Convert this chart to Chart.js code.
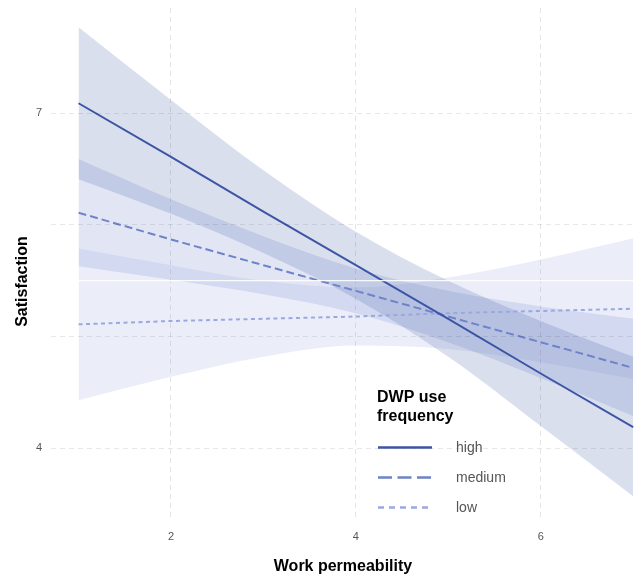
<!DOCTYPE html>
<html>
<head>
<meta charset="utf-8">
<script src="https://cdn.jsdelivr.net/npm/chart.js@4/dist/chart.umd.min.js"></script>
<style>
  body { margin: 0; background: #fff; }
  #wrap { width: 635px; height: 577px; }
</style>
</head>
<body>
<div id="wrap"><canvas id="grafico" width="635" height="577"></canvas></div>
<script>
// datos
const permeabilidad = [1, 2, 3, 4, 5, 6, 7];
const grupos = ['high', 'medium', 'low'];

const highAjuste = [7.09, 6.61, 6.12, 5.64, 5.16, 4.67, 4.19];
const highSup    = [7.77, 7.12, 6.49, 5.94, 5.50, 5.14, 4.82];
const highInf    = [6.41, 6.10, 5.75, 5.34, 4.82, 4.20, 3.57];

const mediumAjuste = [6.11, 5.87, 5.64, 5.41, 5.18, 4.95, 4.72];
const mediumSup    = [6.59, 6.23, 5.90, 5.61, 5.41, 5.27, 5.16];
const mediumInf    = [5.63, 5.51, 5.38, 5.21, 4.95, 4.63, 4.29];

const lowAjuste = [5.11, 5.14, 5.16, 5.18, 5.21, 5.23, 5.25];
const lowSup    = [5.79, 5.64, 5.50, 5.44, 5.53, 5.69, 5.88];
const lowInf    = [4.43, 4.64, 4.82, 4.92, 4.89, 4.77, 4.62];

const xTicks = [2, 4, 6];
const yTicks = [4, 5, 5.5, 6, 7];
const yEtiquetas = [4, 7];

const colores = { high: '#3c55a5', medium: '#6f83c8', low: '#9aa8e0' };
const rellenos = { high: 'rgba(60,85,165,0.19)', medium: 'rgba(111,131,200,0.2)', low: 'rgba(154,168,224,0.2)' };
const guiones = { high: [], medium: [8, 4], low: [4, 3.5] };
const guionesLeyenda = { high: [], medium: [14, 5.5], low: [6, 5] };

const puntos = (ys) => permeabilidad.map((x, i) => ({ x: x, y: ys[i] }));

const linea = (nombre, ys) => ({
    label: nombre,
    data: puntos(ys),
    borderColor: colores[nombre],
    borderWidth: 2,
    borderDash: guiones[nombre],
    pointRadius: 0,
    fill: false,
    order: 0
});

const banda = (nombre, ys, relleno) => ({
    label: nombre + (relleno ? ' inf' : ' sup'),
    data: puntos(ys),
    borderWidth: 0,
    borderColor: 'rgba(0,0,0,0)',
    backgroundColor: rellenos[nombre],
    pointRadius: 0,
    cubicInterpolationMode: 'monotone',
    fill: relleno ? '-1' : false,
    order: 1
});

// leyenda y titulo del eje y dibujados a mano
const leyendaPlugin = {
    id: 'leyendaPlugin',
    afterDraw(chart) {
        const ctx = chart.ctx;
        ctx.save();
        ctx.fillStyle = '#000';
        ctx.font = 'bold 16px "Liberation Sans", Arial, sans-serif';
        ctx.textBaseline = 'middle';
        ctx.textAlign = 'left';
        ctx.fillText('DWP use', 377, 398);
        ctx.fillText('frequency', 377, 417);

        grupos.forEach((g, i) => {
            const y = 447.5 + i * 30;
            ctx.beginPath();
            ctx.strokeStyle = colores[g];
            ctx.lineWidth = 2.6;
            ctx.setLineDash(guionesLeyenda[g]);
            ctx.moveTo(378, y);
            ctx.lineTo(432, y);
            ctx.stroke();
            ctx.setLineDash([]);
            ctx.fillStyle = '#555';
            ctx.font = '14px "Liberation Sans", Arial, sans-serif';
            ctx.fillText(g, 456, y + 1);
        });

        ctx.translate(22.5, 281.5);
        ctx.rotate(-Math.PI / 2);
        ctx.textAlign = 'center';
        ctx.fillStyle = '#000';
        ctx.font = 'bold 16px "Liberation Sans", Arial, sans-serif';
        ctx.fillText('Satisfaction', 0, 0);
        ctx.restore();
    }
};

const ctx = document.getElementById('grafico').getContext('2d');
const miGrafico = new Chart(ctx, {
    type: 'line',
    data: {
        datasets: [
            linea('high', highAjuste),
            linea('medium', mediumAjuste),
            linea('low', lowAjuste),
            banda('high', highSup, false),
            banda('high', highInf, true),
            banda('medium', mediumSup, false),
            banda('medium', mediumInf, true),
            banda('low', lowSup, false),
            banda('low', lowInf, true)
        ]
    },
    options: {
        responsive: false,
        animation: false,
        layout: { padding: { top: 8, right: 0, left: 0, bottom: 0 } },
        plugins: {
            legend: { display: false },
            tooltip: { enabled: false }
        },
        scales: {
            x: {
                type: 'linear',
                min: 0.702,
                max: 7.02,
                afterBuildTicks: (eje) => { eje.ticks = xTicks.map(v => ({ value: v })); },
                afterFit: (eje) => { eje.height = 57; },
                grid: { color: '#e4e4e4', lineWidth: 1, drawTicks: false },
                border: { display: false, dash: [5, 4] },
                ticks: {
                    padding: 10,
                    color: '#555',
                    font: { size: 11, family: '"Liberation Sans", Arial, sans-serif' }
                },
                title: {
                    display: true,
                    text: 'Work permeability',
                    color: '#000',
                    padding: { top: 0, bottom: 1 },
                    font: { size: 16, weight: 'bold', family: '"Liberation Sans", Arial, sans-serif' }
                }
            },
            y: {
                min: 3.358,
                max: 7.943,
                afterBuildTicks: (eje) => { eje.ticks = yTicks.map(v => ({ value: v })); },
                afterFit: (eje) => {
                    eje.width = 51;
                    eje.paddingTop = 0;
                    eje.paddingBottom = 0;
                },
                grid: {
                    z: 1,
                    drawTicks: false,
                    color: (c) => c.tick && c.tick.value === 5.5 ? 'rgba(255,255,255,0.9)' : 'rgba(0,0,0,0.09)',
                    lineWidth: (c) => c.tick && c.tick.value === 5.5 ? 1.3 : 1
                },
                border: {
                    display: false,
                    dash: (c) => c.tick && c.tick.value === 5.5 ? [] : [5, 4]
                },
                ticks: {
                    padding: 9,
                    color: '#555',
                    font: { size: 11, family: '"Liberation Sans", Arial, sans-serif' },
                    callback: (v) => yEtiquetas.includes(v) ? String(v) : ''
                }
            }
        }
    },
    plugins: [leyendaPlugin]
});
</script>
</body>
</html>
